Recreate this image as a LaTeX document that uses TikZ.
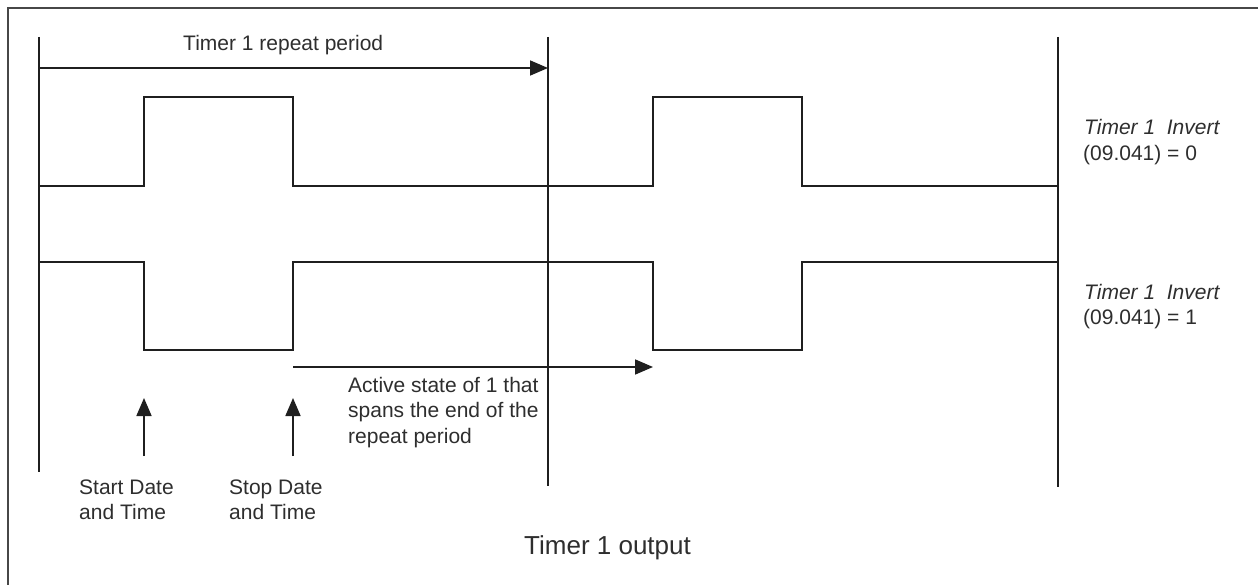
\documentclass[tikz,border=0pt]{standalone}
\usepackage{fontspec}
\setmainfont{Liberation Sans}
\usetikzlibrary{arrows.meta}
\tikzset{
  wire/.style={line width=1.8pt, draw=black!88, line join=miter},
  frameline/.style={line width=2.6pt, draw=black!72},
  tipline/.style={wire, -{Triangle[length=18pt,width=15pt]}},
  lbl/.style={inner sep=0pt, anchor=base west, text=black!82, font=\fontsize{21}{25.5}\selectfont},
  biglbl/.style={inner sep=0pt, anchor=base west, text=black!82, font=\fontsize{26}{31}\selectfont}
}
\begin{document}
\begin{tikzpicture}[x=1pt,y=-1pt]
\useasboundingbox (0,0) rectangle (1258,585);
% frame
\coordinate (fbl) at (8,590);
\coordinate (ftl) at (8,8);
\coordinate (ftr) at (1262,8);
\draw[frameline] (fbl) -- (ftl) -- (ftr);
% vertical markers
\coordinate (Lt) at (39,37);  \coordinate (Lb) at (39,472);
\coordinate (Mt) at (548,37); \coordinate (Mb) at (548,486);
\coordinate (Rt) at (1058,37); \coordinate (Rb) at (1058,487);
\draw[wire] (Lt) -- (Lb);
\draw[wire] (Mt) -- (Mb);
\draw[wire] (Rt) -- (Rb);
% repeat period arrow
\coordinate (pa) at (39,68); \coordinate (pb) at (548,68);
\draw[tipline] (pa) -- (pb);
\node[lbl] (rp) at (183,51) {Timer 1 repeat period};
% signal invert = 0
\coordinate (a0) at (39,186);
\coordinate (a1) at (144,186); \coordinate (a2) at (144,97);
\coordinate (a3) at (293,97);  \coordinate (a4) at (293,186);
\coordinate (a5) at (653,186); \coordinate (a6) at (653,97);
\coordinate (a7) at (802,97);  \coordinate (a8) at (802,186);
\coordinate (a9) at (1058,186);
\draw[wire] (a0) -- (a1) -- (a2) -- (a3) -- (a4) -- (a5) -- (a6) -- (a7) -- (a8) -- (a9);
% signal invert = 1
\coordinate (b0) at (39,262);
\coordinate (b1) at (144,262); \coordinate (b2) at (144,350);
\coordinate (b3) at (293,350); \coordinate (b4) at (293,262);
\coordinate (b5) at (653,262); \coordinate (b6) at (653,350);
\coordinate (b7) at (802,350); \coordinate (b8) at (802,262);
\coordinate (b9) at (1058,262);
\draw[wire] (b0) -- (b1) -- (b2) -- (b3) -- (b4) -- (b5) -- (b6) -- (b7) -- (b8) -- (b9);
% right labels
\node[lbl] (inv0) at (1084,135) {\itshape Timer 1~~Invert};
\node[lbl] (val0) at (1083,160.5) {(09.041) = 0};
\node[lbl] (inv1) at (1084,299) {\itshape Timer 1~~Invert};
\node[lbl] (val1) at (1083,324.5) {(09.041) = 1};
% active state arrow
\coordinate (sa) at (293,367); \coordinate (sb) at (653,367);
\draw[tipline] (sa) -- (sb);
\node[lbl] (act) at (348,392) {\begin{tabular}[t]{@{}l@{}}Active state of 1 that\\spans the end of the\\repeat period\end{tabular}};
% start / stop arrows
\coordinate (st0) at (144,456); \coordinate (st1) at (144,398);
\coordinate (sp0) at (293,456); \coordinate (sp1) at (293,398);
\draw[tipline] (st0) -- (st1);
\draw[tipline] (sp0) -- (sp1);
\node[lbl] (start) at (79,494) {\begin{tabular}[t]{@{}l@{}}Start Date\\and Time\end{tabular}};
\node[lbl] (stop) at (229,494) {\begin{tabular}[t]{@{}l@{}}Stop Date\\and Time\end{tabular}};
% caption
\node[biglbl] (cap) at (524,554) {Timer 1 output};
\end{tikzpicture}
\end{document}
